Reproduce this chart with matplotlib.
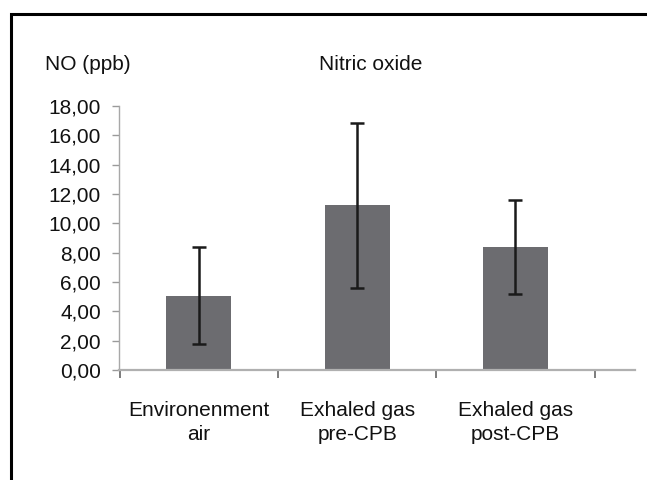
import matplotlib
matplotlib.use("Agg")
import matplotlib.pyplot as plt
from matplotlib.patches import Rectangle
from matplotlib.ticker import FixedLocator, FuncFormatter

categories = ["Environenment\nair", "Exhaled gas\npre-CPB", "Exhaled gas\npost-CPB"]
values = [5.05, 11.22, 8.37]
errors = [3.31, 5.65, 3.20]
yticks = [0, 2, 4, 6, 8, 10, 12, 14, 16, 18]

plt.rcParams['font.family'] = ['Liberation Sans', 'DejaVu Sans']
FS = 15

fig = plt.figure(figsize=(6.47, 4.80), dpi=100)
ax = fig.add_axes([119/647, 1-370/480, (635-119)/647, (370-106)/480])

x = list(range(len(categories)))
ax.bar(x, values, width=0.41, color="#6c6c70", zorder=2)
ax.errorbar(x, values, yerr=errors, fmt="none", ecolor="#1a1a1a",
            elinewidth=1.8, capsize=5, capthick=1.8, zorder=3)

ax.set_xlim(-0.505, 2.755)
ax.set_ylim(0, 18)

ax.yaxis.set_major_locator(FixedLocator(yticks))
ax.yaxis.set_major_formatter(FuncFormatter(lambda v, p: f"{v:.2f}".replace(".", ",")))
ax.tick_params(axis="y", length=5, width=1, color="#9a9a9a", pad=8, labelsize=FS,
               labelcolor="#111111")

ax.xaxis.set_major_locator(FixedLocator([-0.5, 0.5, 1.5, 2.5]))
ax.xaxis.set_major_formatter(FuncFormatter(lambda v, p: ""))
ax.xaxis.set_minor_locator(FixedLocator(x))
ax.xaxis.set_minor_formatter(FuncFormatter(lambda v, p: categories[int(round(v))]))
ax.tick_params(axis="x", which="major", length=6, width=1.2, color="#666666", direction="out")
ax.tick_params(axis="x", which="minor", length=0, pad=22, labelsize=FS, labelcolor="#111111")
for lab in ax.get_xticklabels(minor=True):
    lab.set_linespacing(1.35)

for s in ["top", "right"]:
    ax.spines[s].set_visible(False)
ax.spines["left"].set_color("#a8a8a8")
ax.spines["left"].set_linewidth(1.0)
ax.spines["bottom"].set_color("#b0b0b0")
ax.spines["bottom"].set_linewidth(1.6)

fig.text(45/647, 1-64/480, "NO (ppb)", fontsize=FS, ha="left", va="center", color="#111111")
fig.text(371/647, 1-64/480, "Nitric oxide", fontsize=FS, ha="center", va="center", color="#111111")

fig.patches.append(Rectangle((11/647, -0.2), 1.2, 1.2 - 14/480, transform=fig.transFigure,
                             fill=False, edgecolor="black", linewidth=2.2, figure=fig))

fig.savefig("out.png", dpi=100)
